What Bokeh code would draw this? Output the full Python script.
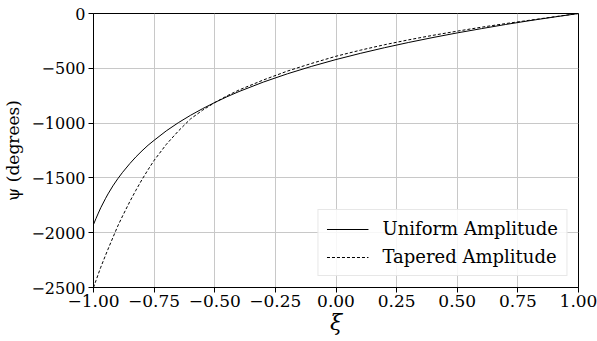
from bokeh.plotting import figure
from bokeh.models import Range1d, FixedTicker, CustomJSTickFormatter, Legend, LegendItem
from bokeh.embed import file_html
from bokeh.resources import INLINE

xi = [-1.0, -0.99, -0.98, -0.97, -0.95, -0.94, -0.92, -0.9, -0.88, -0.85, -0.825, -0.8, -0.775,
      -0.75, -0.7, -0.65, -0.6, -0.55, -0.5, -0.45, -0.4, -0.3, -0.2, -0.1, 0.0,
      0.1, 0.2, 0.3, 0.4, 0.5, 0.6, 0.7, 0.8, 0.9, 1.0]
psi_uniform = [-1925, -1872, -1821, -1772, -1686, -1646, -1573, -1508, -1449, -1369, -1308, -1253, -1202,
               -1157, -1071, -996, -929, -868, -812, -760, -712, -626, -550, -482, -420,
               -364, -312, -264, -219, -177, -138, -100, -65, -32, 0]
psi_tapered = [-2500, -2438, -2376, -2315, -2204, -2150, -2044, -1940, -1847, -1715, -1612, -1515, -1425,
               -1340, -1195, -1072, -962, -882, -813, -752, -698, -607, -525, -455, -390,
               -335, -285, -240, -199, -161, -125, -92, -61, -30, 0]

x_ticks = [-1.0, -0.75, -0.5, -0.25, 0.0, 0.25, 0.5, 0.75, 1.0]
y_ticks = [-2500, -2000, -1500, -1000, -500, 0]
series_labels = ["Uniform Amplitude", "Tapered Amplitude"]

FONT = "DejaVu Serif"

p = figure(width=597, height=341, output_backend="svg", toolbar_location=None,
           x_range=Range1d(-1, 1), y_range=Range1d(-2500, 0),
           min_border_left=93, min_border_right=19, min_border_top=13, min_border_bottom=54)
p.background_fill_color = "white"
p.border_fill_color = "white"
p.outline_line_color = "black"
p.outline_line_width = 1
p.outline_line_alpha = 1

r1 = p.line(xi, psi_uniform, line_color="black", line_width=1)
r2 = p.line(xi, psi_tapered, line_color="black", line_width=1, line_dash="3 2")

for ax in (p.xaxis[0], p.yaxis[0]):
    ax.major_label_text_font = FONT
    ax.major_label_text_color = "black"
    ax.axis_line_color = "black"
    ax.major_tick_line_color = "black"
    ax.major_tick_out = 5
    ax.major_tick_in = 0
    ax.minor_tick_line_color = None
    ax.axis_label_text_font = FONT
    ax.axis_label_text_color = "black"

p.xaxis.major_label_text_font_size = "17px"
p.yaxis.major_label_text_font_size = "16px"
p.xaxis.major_label_standoff = 2
p.yaxis.major_label_standoff = 3

p.xaxis.ticker = FixedTicker(ticks=x_ticks)
p.yaxis.ticker = FixedTicker(ticks=y_ticks)
p.xaxis.formatter = CustomJSTickFormatter(
    code="return (tick < 0 ? '\\u2212' : '') + Math.abs(tick).toFixed(2);")
p.yaxis.formatter = CustomJSTickFormatter(
    code="return (tick < 0 ? '\\u2212' : '') + Math.abs(tick).toFixed(0);")

p.xaxis.axis_label = "ξ"
p.xaxis.axis_label_text_font_size = "22px"
p.xaxis.axis_label_text_font_style = "italic"
p.xaxis.axis_label_standoff = 0
p.yaxis.axis_label = "ψ (degrees)"
p.yaxis.axis_label_text_font_size = "17px"
p.yaxis.axis_label_text_font_style = "normal"
p.yaxis.axis_label_standoff = 5

p.xgrid.ticker = FixedTicker(ticks=x_ticks)
p.ygrid.ticker = FixedTicker(ticks=y_ticks)
p.grid.grid_line_color = "#c8c8c8"
p.grid.grid_line_width = 1

legend = Legend(items=[LegendItem(label=series_labels[0], renderers=[r1]),
                       LegendItem(label=series_labels[1], renderers=[r2])],
                location="bottom_right")
legend.label_text_font = FONT
legend.label_text_font_size = "18px"
legend.label_text_color = "black"
legend.glyph_width = 42
legend.glyph_height = 20
legend.label_height = 20
legend.label_standoff = 14
legend.spacing = 7
legend.padding = 8
legend.margin = 11
legend.border_line_color = "#d0d0d0"
legend.border_line_width = 1
legend.background_fill_color = "white"
legend.background_fill_alpha = 0.85
p.add_layout(legend)

open("out.html", "w").write(file_html(p, INLINE))
